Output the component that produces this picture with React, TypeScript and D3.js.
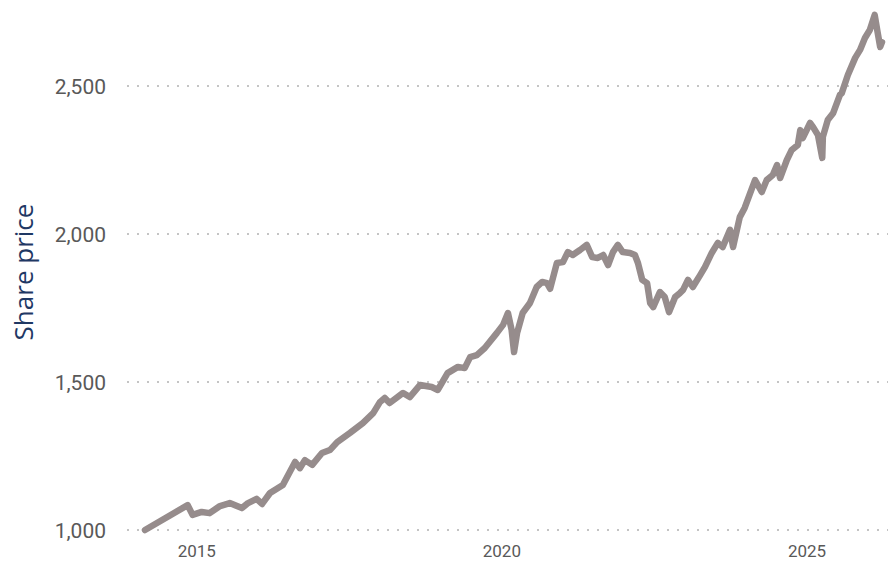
import React from "react";
import * as d3 from "d3";

// decimal years
const years: number[] = [
  2014.15, 2014.85, 2014.93, 2015.08, 2015.21, 2015.38, 2015.54, 2015.74, 2015.84, 2015.98,
  2016.07, 2016.2, 2016.41, 2016.61, 2016.69, 2016.77, 2016.89, 2017.05, 2017.18, 2017.3,
  2017.51, 2017.72, 2017.89, 2018.0, 2018.08, 2018.16, 2018.38, 2018.49, 2018.66, 2018.85,
  2018.95, 2019.11, 2019.28, 2019.39, 2019.48, 2019.59, 2019.72, 2019.92, 2020.02, 2020.1,
  2020.16, 2020.2, 2020.25, 2020.34, 2020.46, 2020.57, 2020.66, 2020.74, 2020.79, 2020.9,
  2021.0, 2021.08, 2021.16, 2021.28, 2021.39, 2021.48, 2021.57, 2021.66, 2021.74, 2021.82,
  2021.9, 2021.98, 2022.1, 2022.18, 2022.23, 2022.3, 2022.38, 2022.43, 2022.48, 2022.59,
  2022.67, 2022.74, 2022.84, 2022.92, 2022.97, 2023.05, 2023.13, 2023.25, 2023.33, 2023.44,
  2023.54, 2023.62, 2023.74, 2023.79, 2023.9, 2023.98, 2024.07, 2024.15, 2024.26, 2024.34,
  2024.44, 2024.51, 2024.56, 2024.67, 2024.75, 2024.85, 2024.89, 2024.93, 2025.05, 2025.1,
  2025.18, 2025.25, 2025.26, 2025.34, 2025.43, 2025.54, 2025.57, 2025.67, 2025.79, 2025.87,
  2025.95, 2026.03, 2026.11, 2026.16, 2026.2, 2026.23,
];

const prices: number[] = [
  1000, 1084, 1051, 1061, 1057, 1081, 1091, 1074, 1091, 1105,
  1088, 1125, 1152, 1230, 1209, 1236, 1220, 1260, 1270, 1297,
  1328, 1361, 1395, 1432, 1446, 1429, 1463, 1449, 1490, 1483,
  1473, 1530, 1551, 1547, 1584, 1591, 1615, 1666, 1693, 1733,
  1676, 1601, 1666, 1733, 1767, 1821, 1838, 1834, 1815, 1902,
  1905, 1939, 1929, 1946, 1963, 1922, 1919, 1929, 1895, 1939,
  1963, 1939, 1936, 1929, 1902, 1845, 1834, 1767, 1753, 1804,
  1787, 1736, 1787, 1801, 1811, 1845, 1821, 1861, 1889, 1936,
  1970, 1956, 2014, 1956, 2057, 2088, 2138, 2182, 2142, 2182,
  2199, 2233, 2189, 2250, 2284, 2301, 2351, 2324, 2375, 2361,
  2334, 2257, 2328, 2385, 2409, 2470, 2476, 2537, 2595, 2622,
  2662, 2689, 2740, 2679, 2632, 2648,
];

const yTicks: number[] = [1000, 1500, 2000, 2500];
const xTickYears: number[] = [2015, 2020, 2025];
const yTitle = "Share price";

const W = 895;
const H = 562;

function toDate(y: number): Date {
  const yr = Math.floor(y);
  const start = new Date(yr, 0, 1).getTime();
  const end = new Date(yr + 1, 0, 1).getTime();
  return new Date(start + (y - yr) * (end - start));
}

export default function App() {
  const data = years.map((y, i) => ({ d: toDate(y), v: prices[i] }));
  const x = d3
    .scaleTime()
    .domain(d3.extent(data, (p) => p.d) as [Date, Date])
    .range([145, 882]);
  const y = d3.scaleLinear().domain([1000, 2500]).range([530, 86]);
  const line = d3
    .line<{ d: Date; v: number }>()
    .x((p) => x(p.d))
    .y((p) => y(p.v))
    .curve(d3.curveLinear);

  return (
    <svg
      width={W}
      height={H}
      style={{ position: "absolute", left: 0, top: 0, background: "#fff" }}
    >
      {yTicks.map((t) => (
        <g key={t}>
          <line
            x1={127}
            x2={888}
            y1={y(t)}
            y2={y(t)}
            stroke="#c4c4c4"
            strokeWidth={2}
            strokeDasharray="2,8"
          />
          <text
            x={106}
            y={y(t)}
            dy="0.36em"
            textAnchor="end"
            fontFamily="Roboto"
            fontSize={21}
            fill="#595959"
          >
            {d3.format(",")(t)}
          </text>
        </g>
      ))}
      {xTickYears.map((yr) => (
        <text
          key={yr}
          x={x(new Date(yr, 0, 1))}
          y={557}
          textAnchor="middle"
          fontFamily="Roboto"
          fontSize={17}
          fill="#595959"
        >
          {yr}
        </text>
      ))}
      <text
        transform={`translate(33,272) rotate(-90)`}
        textAnchor="middle"
        fontFamily="Open Sans"
        fontSize={26}
        fill="#1f3864"
      >
        {yTitle}
      </text>
      <path
        d={line(data) || ""}
        fill="none"
        stroke="#968c8c"
        strokeWidth={6.5}
        strokeLinejoin="round"
        strokeLinecap="round"
      />
    </svg>
  );
}
